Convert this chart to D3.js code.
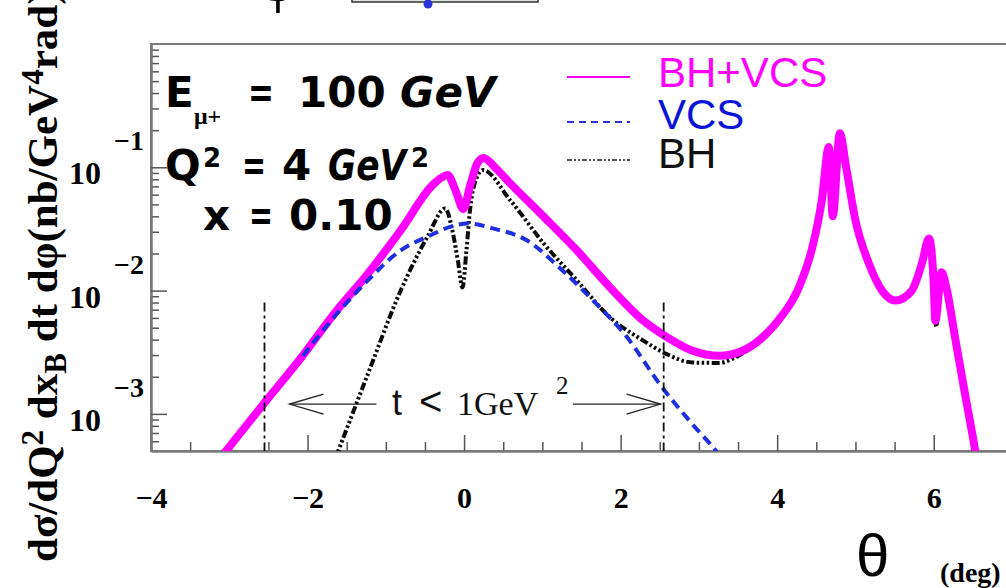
<!DOCTYPE html>
<html>
<head>
<meta charset="utf-8">
<script src="https://cdn.jsdelivr.net/npm/d3@7"></script>
<style>
  html, body { margin: 0; padding: 0; background: #fff; }
  svg { display: block; }
</style>
</head>
<body>
<div id="chart"></div>
<script>
// ---- values ----
const thetaTicks = [-4, -2, 0, 2, 4, 6];
const decadeTicks = [1e-3, 1e-2, 1e-1];
const decadeExponents = ['\u22123', '\u22122', '\u22121'];

// BH+VCS (magenta, solid)
const bhVcsTheta = [-3.10, -2.55, -2.08, -1.66, -1.23, -0.81, -0.38, -0.21, -0.11, -0.01,
    0.08, 0.17, 0.25, 0.40, 0.59, 1.02, 1.44, 1.86, 2.29, 2.59,
    2.92, 3.26, 3.56, 3.86, 4.03, 4.28, 4.45, 4.57, 4.66, 4.71,
    4.80, 4.88, 5.00, 5.17, 5.34, 5.51, 5.72, 5.85, 5.94, 6.00,
    6.02, 6.10, 6.16, 6.28, 6.40, 6.53, 6.57];
const bhVcsValue = [4.5e-4, 1.23e-3, 2.87e-3, 6.5e-3, 1.37e-2, 3.08e-2, 7.4e-2, 8.65e-2, 6.5e-2, 4.6e-2,
    7.2e-2, 0.108, 0.119, 0.099, 0.074, 0.0396, 0.0212, 0.0107, 5.7e-3, 4.2e-3,
    3.25e-3, 2.96e-3, 3.25e-3, 4.45e-3, 5.9e-3, 1.07e-2, 2.25e-2, 5.4e-2, 0.146, 0.040,
    0.189, 0.101, 0.0372, 0.0167, 0.0100, 8.3e-3, 0.0100, 0.0167, 0.0265, 0.0114,
    5.7e-3, 0.0141, 0.0107, 3.9e-3, 1.45e-3, 5.0e-4, 3.4e-4];

// VCS (blue, dashed)
const vcsTheta = [-2.06, -1.66, -1.23, -0.81, -0.43, -0.17, 0.04, 0.38, 0.80, 1.23,
    1.65, 2.08, 2.50, 2.92, 3.24, 3.33];
const vcsValue = [2.96e-3, 6.1e-3, 1.21e-2, 2.12e-2, 2.81e-2, 3.30e-2, 3.50e-2, 3.18e-2, 2.56e-2, 1.51e-2,
    8.3e-3, 4.2e-3, 1.74e-3, 8.2e-4, 4.8e-4, 4.0e-4];

// BH (black, dash-dot)
const bhTheta = [-1.66, -1.23, -0.81, -0.47, -0.24, -0.15, -0.08, -0.02, 0.03, 0.08,
    0.16, 0.24, 0.59, 1.02, 1.44, 1.86, 2.29, 2.59, 2.92, 3.26,
    3.43, 3.56, 3.86, 4.03, 4.28, 4.45, 4.57, 4.66, 4.71, 4.80,
    4.88, 5.00, 5.17, 5.34, 5.51, 5.72, 5.85, 5.94, 6.00, 6.03,
    6.10, 6.16, 6.28, 6.40, 6.53, 6.57];
const bhValue = [4.1e-4, 2.1e-3, 1.0e-2, 2.72e-2, 4.64e-2, 3.08e-2, 1.76e-2, 1.06e-2, 2.12e-2, 4.75e-2,
    8.2e-2, 9.5e-2, 5.4e-2, 2.4e-2, 1.21e-2, 6.1e-3, 3.93e-3, 3.05e-3, 2.61e-3, 2.59e-3,
    2.8e-3, 3.1e-3, 4.3e-3, 5.8e-3, 1.05e-2, 2.2e-2, 5.3e-2, 0.143, 0.039, 0.186,
    0.099, 0.0365, 0.0164, 0.0098, 8.1e-3, 9.8e-3, 0.0164, 0.026, 0.0112, 5.1e-3,
    0.0139, 0.0105, 3.85e-3, 1.43e-3, 4.9e-4, 3.4e-4];

// |t| < 1 GeV^2 boundaries
const tCutTheta = [-2.55, 2.55];
const tCutTop = 8e-3;
const tArrowValue = 1.2e-3;

// ---- layout ----
const width = 1006, height = 588;
const frame = {left: 151, top: 44, right: 1012, bottom: 451};
const serif = 'Liberation Serif, Times New Roman, serif';
const sans = 'Liberation Sans, Arial, sans-serif';
const comic = 'DejaVu Sans, sans-serif';

const xScale = d3.scaleLinear().domain([-4, 7]).range([frame.left, frame.right]);
const yScale = d3.scaleLog().domain([5e-4, 1]).range([frame.bottom, frame.top]);

const svg = d3.select('#chart').append('svg')
    .attr('width', width)
    .attr('height', height)
    .style('background', '#fff');

svg.append('clipPath').attr('id', 'plotClip')
    .append('rect')
    .attr('x', frame.left).attr('y', frame.top)
    .attr('width', frame.right - frame.left).attr('height', frame.bottom - frame.top);

// ---- frame + axes ----
svg.append('rect')
    .attr('x', frame.left).attr('y', frame.top)
    .attr('width', frame.right - frame.left).attr('height', frame.bottom - frame.top)
    .attr('fill', 'none').attr('stroke', '#7a7a7a').attr('stroke-width', 2);

const minorTheta = d3.range(-4, 7.01, 0.5).filter(d => !thetaTicks.includes(d));
const xAxisG = svg.append('g').attr('transform', `translate(0,${frame.bottom})`);
xAxisG.append('g')
    .call(d3.axisBottom(xScale).tickValues(minorTheta).tickSize(-9).tickSizeOuter(0).tickFormat(''));
xAxisG.append('g')
    .call(d3.axisBottom(xScale).tickValues(thetaTicks).tickSize(-16).tickSizeOuter(0).tickPadding(36)
        .tickFormat(d => d < 0 ? '\u2212' + Math.abs(d) : String(d)));
xAxisG.selectAll('path.domain').attr('stroke', '#7a7a7a').attr('stroke-width', 2);
xAxisG.selectAll('.tick line').attr('stroke', '#555').attr('stroke-width', 1.5);
xAxisG.selectAll('.tick text')
    .attr('font-family', serif).attr('font-weight', 'bold').attr('font-size', 30).attr('fill', '#000');

const isDecade = v => Math.abs(Math.log10(v) - Math.round(Math.log10(v))) < 1e-6;
const minorValues = yScale.ticks().filter(v => !isDecade(v) && v > 5e-4 && v < 1);
const yAxisG = svg.append('g').attr('transform', `translate(${frame.left},0)`);
yAxisG.append('g')
    .call(d3.axisLeft(yScale).tickValues(minorValues).tickSize(-8).tickSizeOuter(0).tickFormat(''));
yAxisG.append('g')
    .call(d3.axisLeft(yScale).tickValues(decadeTicks).tickSize(-16).tickSizeOuter(0).tickFormat(''));
yAxisG.selectAll('path.domain').attr('stroke', '#7a7a7a').attr('stroke-width', 2);
yAxisG.selectAll('.tick line').attr('stroke', '#555').attr('stroke-width', 1.5);

// 10^n labels
decadeTicks.forEach((v, i) => {
    svg.append('text')
        .attr('x', 101).attr('y', yScale(v) + 17)
        .attr('text-anchor', 'end')
        .attr('font-family', serif).attr('font-weight', 'bold').attr('font-size', 32)
        .text('10');
    svg.append('text')
        .attr('x', 114).attr('y', yScale(v) - 17)
        .attr('font-family', serif).attr('font-weight', 'bold').attr('font-size', 28)
        .text(decadeExponents[i]);
});

// y title (rotated)
const yTitle = svg.append('text')
    .attr('transform', 'translate(57,562) rotate(-90)')
    .attr('font-family', serif).attr('font-weight', 'bold').attr('font-size', 43);
yTitle.append('tspan').text('d\u03c3/dQ');
yTitle.append('tspan').attr('baseline-shift', '45%').attr('font-size', 31).text('2');
yTitle.append('tspan').text(' dx');
yTitle.append('tspan').attr('baseline-shift', '-28%').attr('font-size', 31).text('B');
yTitle.append('tspan').text(' dt d\u03c6(nb/GeV');
yTitle.append('tspan').attr('baseline-shift', '45%').attr('font-size', 31).text('4');
yTitle.append('tspan').text('rad)');

// x title
svg.append('text')
    .attr('x', 856).attr('y', 576)
    .attr('font-family', sans).attr('font-size', 60)
    .text('\u03b8');
svg.append('text')
    .attr('x', 940).attr('y', 582)
    .attr('font-family', serif).attr('font-weight', 'bold').attr('font-size', 28)
    .text('(deg)');

// ---- curves ----
const line = d3.line()
    .x(d => xScale(d[0]))
    .y(d => yScale(d[1]))
    .curve(d3.curveMonotoneX);

const plot = svg.append('g').attr('clip-path', 'url(#plotClip)');

plot.append('path')
    .datum(d3.zip(bhTheta, bhValue))
    .attr('d', line)
    .attr('fill', 'none').attr('stroke', '#0a0a0a').attr('stroke-width', 4)
    .attr('stroke-dasharray', '8,2.5,2.5,2.5,2.5,2.5,2.5,2.5');

plot.append('path')
    .datum(d3.zip(bhVcsTheta, bhVcsValue))
    .attr('d', line)
    .attr('fill', 'none').attr('stroke', '#ff00ff').attr('stroke-width', 8)
    .attr('stroke-linejoin', 'round').attr('stroke-linecap', 'round');

plot.append('path')
    .datum(d3.zip(vcsTheta, vcsValue))
    .attr('d', line)
    .attr('fill', 'none').attr('stroke', '#1f2fe0').attr('stroke-width', 4)
    .attr('stroke-dasharray', '10,6');

// t < 1 GeV^2 markers
tCutTheta.forEach(t => {
    plot.append('line')
        .attr('x1', xScale(t)).attr('x2', xScale(t))
        .attr('y1', yScale(tCutTop)).attr('y2', frame.bottom)
        .attr('stroke', '#111').attr('stroke-width', 1.8)
        .attr('stroke-dasharray', '9,4,3,4');
});

const arrowY = yScale(tArrowValue);
const drawArrow = (x0, x1) => {
    const dir = Math.sign(x1 - x0);
    svg.append('line').attr('x1', x0).attr('x2', x1).attr('y1', arrowY).attr('y2', arrowY)
        .attr('stroke', '#222').attr('stroke-width', 1.3);
    svg.append('path')
        .attr('d', `M${x1 - dir * 34},${arrowY - 10}L${x1},${arrowY}L${x1 - dir * 34},${arrowY + 10}`)
        .attr('fill', 'none').attr('stroke', '#222').attr('stroke-width', 1.3);
};
drawArrow(xScale(-1.12), xScale(-2.23));
drawArrow(xScale(1.39), xScale(2.51));

const tLabel = svg.append('text').attr('y', arrowY + 11).attr('fill', '#111');
tLabel.append('tspan').attr('x', 392).attr('font-family', sans).attr('font-size', 36).text('t');
tLabel.append('tspan').attr('x', 419).attr('font-family', sans).attr('font-size', 40).text('<');
tLabel.append('tspan').attr('x', 457).attr('font-family', serif).attr('font-size', 34).text('1GeV');
tLabel.append('tspan').attr('x', 556).attr('dy', -21).attr('font-family', serif).attr('font-size', 25).text('2');

// ---- legend ----
const legend = [
    {label: 'BH+VCS', color: '#ff00ff', lineColor: '#ff00ff', dash: null, y: 77, base: 87},
    {label: 'VCS', color: '#0a14d8', lineColor: '#3030e0', dash: '7,5', y: 122, base: 129},
    {label: 'BH', color: '#111', lineColor: '#555', dash: '5,2,2,2,2,2', y: 160, base: 168}
];
legend.forEach(item => {
    svg.append('line')
        .attr('x1', 567).attr('x2', 630).attr('y1', item.y).attr('y2', item.y)
        .attr('stroke', item.lineColor).attr('stroke-width', 2)
        .attr('stroke-dasharray', item.dash);
    svg.append('text')
        .attr('x', 658).attr('y', item.base)
        .attr('font-family', sans).attr('font-size', 42).attr('fill', item.color)
        .text(item.label);
});

// ---- kinematics box text ----
const kin = svg.append('g')
    .attr('font-family', comic).attr('font-weight', 'bold').attr('font-size', 42).attr('fill', '#000');
const row1 = kin.append('text').attr('y', 107);
row1.append('tspan').attr('x', 165).text('E');
row1.append('tspan').attr('x', 194).attr('y', 124).attr('font-size', 24).attr('font-family', serif).text('\u03bc+');
row1.append('tspan').attr('x', 248).attr('y', 107).attr('textLength', 26).attr('lengthAdjust', 'spacingAndGlyphs').text('=');
row1.append('tspan').attr('x', 298).text('100');
row1.append('tspan').attr('x', 400).attr('font-style', 'italic').text('GeV');

const row2 = kin.append('text').attr('y', 180);
row2.append('tspan').attr('x', 165).text('Q');
row2.append('tspan').attr('x', 203).attr('y', 167).attr('font-size', 26).text('2');
row2.append('tspan').attr('x', 242).attr('y', 180).attr('textLength', 24).attr('lengthAdjust', 'spacingAndGlyphs').text('=');
row2.append('tspan').attr('x', 282).text('4');
row2.append('tspan').attr('x', 328).attr('font-style', 'italic')
    .attr('textLength', 78).attr('lengthAdjust', 'spacingAndGlyphs').text('GeV');
row2.append('tspan').attr('x', 411).attr('y', 167).attr('font-size', 26).text('2');

const row3 = kin.append('text').attr('y', 230);
row3.append('tspan').attr('x', 203).text('x');
row3.append('tspan').attr('x', 249).attr('textLength', 24).attr('lengthAdjust', 'spacingAndGlyphs').text('=');
row3.append('tspan').attr('x', 289).text('0.10');

// ---- cropped inset pieces at the top edge ----
svg.append('text')
    .attr('x', 278).attr('y', 0)
    .attr('text-anchor', 'middle')
    .attr('font-family', serif).attr('font-weight', 'bold').attr('font-size', 60)
    .text('\u03c6');
svg.append('rect')
    .attr('x', 352).attr('y', -12).attr('width', 186).attr('height', 14)
    .attr('fill', '#dfe6e0').attr('stroke', '#333').attr('stroke-width', 1.5);
svg.append('circle')
    .attr('cx', 428).attr('cy', 4).attr('r', 4.5)
    .attr('fill', '#2b35d8');
</script>
</body>
</html>
